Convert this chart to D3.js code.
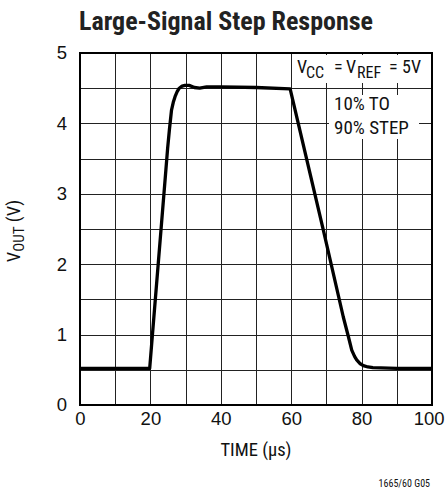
<!DOCTYPE html>
<html>
<head>
<meta charset="utf-8">
<script src="https://cdn.jsdelivr.net/npm/d3@7"></script>
<style>
  body { margin: 0; background: #fff; }
  svg { font-family: "Liberation Sans Narrow", "Roboto Condensed", "Liberation Sans", Arial, sans-serif; }
  .grid line { stroke: #222; stroke-width: 1; shape-rendering: crispEdges; }
  .grid path { display: none; }
  .lbl text { font-size: 18.5px; fill: #111; }
  .lbl path, .lbl line { display: none; }
</style>
</head>
<body>
<svg id="chart" width="445" height="492"></svg>
<script>
'use strict';

// time in microseconds, output in volts
var timeUs = [0, 19.8, 24.4, 24.9, 25.4, 26.0, 26.5, 27.0, 27.6, 28.2, 29.0, 29.8, 31, 32.5, 34, 36, 40, 50, 59.7, 69.1, 74.8, 76.2, 77.2, 78.0, 78.6, 79.5, 80.5, 81.8, 83.2, 90, 100];
var vOut   = [0.52, 0.52, 3.34, 3.65, 3.91, 4.19, 4.30, 4.38, 4.45, 4.50, 4.53, 4.54, 4.54, 4.51, 4.50, 4.52, 4.52, 4.51, 4.49, 2.49, 1.25, 0.98, 0.78, 0.69, 0.64, 0.59, 0.56, 0.54, 0.53, 0.52, 0.52];

var xTicks = [0, 20, 40, 60, 80, 100];
var yTicks = [0, 1, 2, 3, 4, 5];
var xGrid = d3.range(0, 101, 10);
var yGrid = d3.range(0, 5.01, 0.5);

var svg = d3.select('#chart');
var plotL = 80, plotR = 432, plotT = 53, plotB = 405;

var x = d3.scaleLinear().domain([0, 100]).range([plotL, plotR]);
var y = d3.scaleLinear().domain([0, 5]).range([plotB, plotT]);

// grid
svg.append('g')
  .attr('class', 'grid')
  .attr('transform', 'translate(0,' + plotB + ')')
  .call(d3.axisBottom(x).tickValues(xGrid).tickSize(-(plotB - plotT)).tickFormat(''));
svg.append('g')
  .attr('class', 'grid')
  .attr('transform', 'translate(' + plotL + ',0)')
  .call(d3.axisLeft(y).tickValues(yGrid).tickSize(-(plotR - plotL)).tickFormat(''));

// note boxes hide the grid under the labels
svg.append('rect').attr('x', 294).attr('y', 55).attr('width', 137).attr('height', 28).attr('fill', '#fff');
svg.append('rect').attr('x', 329).attr('y', 95).attr('width', 90).attr('height', 44).attr('fill', '#fff');

// border
svg.append('rect')
  .attr('x', plotL).attr('y', plotT)
  .attr('width', plotR - plotL).attr('height', plotB - plotT)
  .attr('fill', 'none').attr('stroke', '#000').attr('stroke-width', 2);

// tick labels
var xl = svg.append('g')
  .attr('class', 'lbl')
  .attr('transform', 'translate(0,' + plotB + ')')
  .call(d3.axisBottom(x).tickValues(xTicks).tickSize(0).tickPadding(7).tickFormat(d3.format('d')));
// last label sits against the right edge, as in the original
xl.selectAll('.tick').filter(function(d){ return d === 100; }).select('text')
  .attr('text-anchor', 'end').attr('x', 444 - x(100));
svg.append('g')
  .attr('class', 'lbl')
  .attr('transform', 'translate(' + plotL + ',0)')
  .call(d3.axisLeft(y).tickValues(yTicks).tickSize(0).tickPadding(13).tickFormat(d3.format('d')));

// response curve
var line = d3.line()
  .x(function(d, i){ return x(timeUs[i]); })
  .y(function(d){ return y(d); });

svg.append('path')
  .datum(vOut)
  .attr('d', line)
  .attr('fill', 'none')
  .attr('stroke', '#000')
  .attr('stroke-width', 3.3)
  .attr('stroke-linejoin', 'round');

// title
svg.append('text')
  .attr('x', 226).attr('y', 30)
  .attr('text-anchor', 'middle')
  .style('font-size', '26px').style('font-weight', 'bold').style('fill', '#222')
  .text('Large-Signal Step Response');

// axis titles
svg.append('text')
  .attr('x', 256).attr('y', 456)
  .attr('text-anchor', 'middle')
  .style('font-size', '18.5px').style('fill', '#111')
  .text('TIME (\u00b5s)');

var yt = svg.append('text')
  .attr('transform', 'translate(20,231) rotate(-90)')
  .attr('text-anchor', 'middle')
  .style('font-size', '18.5px').style('fill', '#111');
yt.append('tspan').text('V');
yt.append('tspan').attr('dy', 4).style('font-size', '15px').text('OUT');
yt.append('tspan').attr('dy', -4).text(' (V)');

// notes
var n1 = svg.append('text')
  .attr('y', 73)
  .style('font-size', '18px').style('fill', '#111');
n1.append('tspan').attr('x', 297).text('V');
n1.append('tspan').attr('x', 306).attr('dy', 5).style('font-size', '16px').text('CC');
n1.append('tspan').attr('x', 334).attr('dy', -5).text('=');
n1.append('tspan').attr('x', 346).text('V');
n1.append('tspan').attr('x', 357).attr('dy', 5).style('font-size', '16px').text('REF');
n1.append('tspan').attr('x', 389).attr('dy', -5).text('=');
n1.append('tspan').attr('x', 402).text('5V');

svg.append('text').attr('x', 334).attr('y', 110)
  .style('font-size', '19px').style('fill', '#111').text('10% TO');
svg.append('text').attr('x', 334).attr('y', 134)
  .style('font-size', '19px').style('fill', '#111').text('90% STEP');

svg.append('text')
  .attr('x', 430).attr('y', 487)
  .attr('text-anchor', 'end')
  .style('font-size', '10px').style('fill', '#111')
  .text('1665/60 G05');
</script>
</body>
</html>
